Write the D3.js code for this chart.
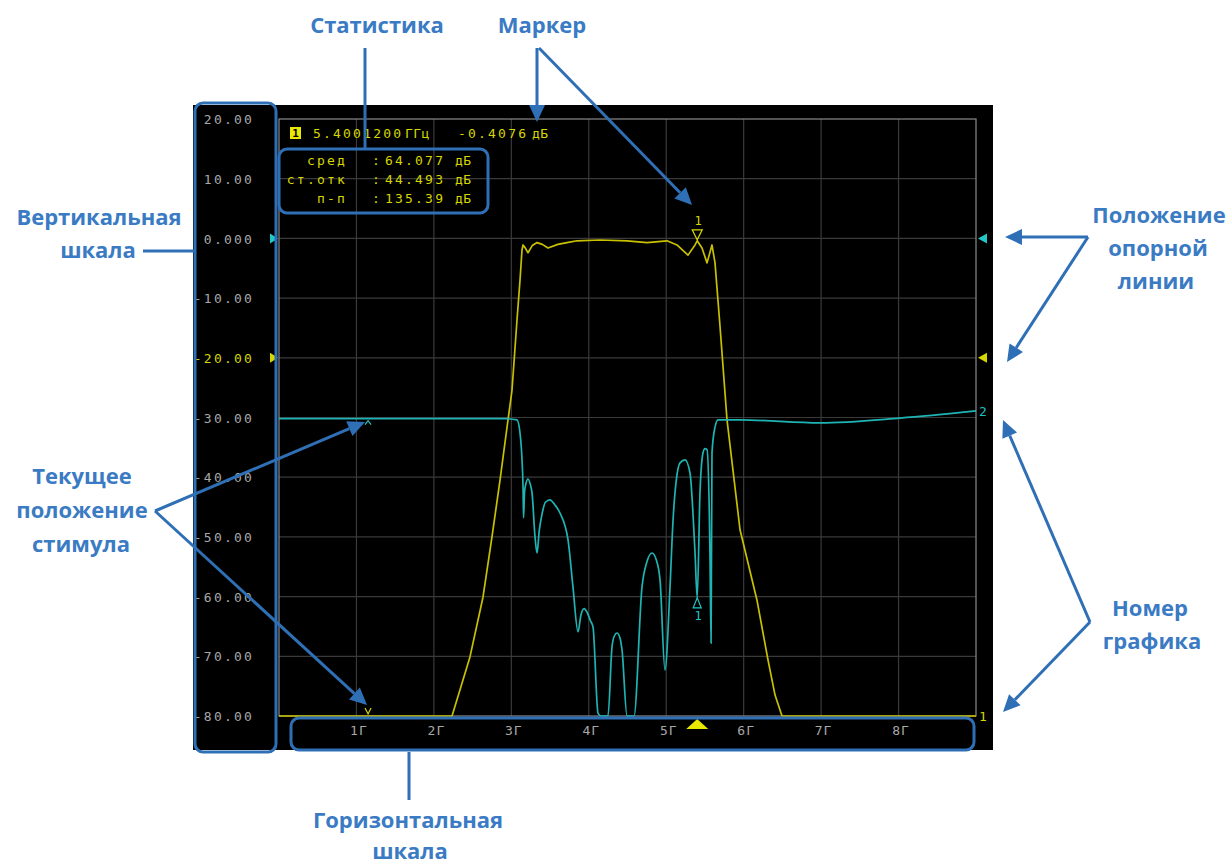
<!DOCTYPE html>
<html><head><meta charset="utf-8">
<script src="https://cdn.jsdelivr.net/npm/d3@7"></script>
<style>body{margin:0;background:#fff}svg{display:block}</style>
</head><body><svg id="c" width="1232" height="866"></svg>
<script>
// ---------- data ----------
const yTicks = [20,10,0,-10,-20,-30,-40,-50,-60,-70,-80];
const yTickLabels = ["20.00","10.00","0.000","-10.00","-20.00","-30.00","-40.00","-50.00","-60.00","-70.00","-80.00"];
const xTicks = [1,2,3,4,5,6,7,8];
const xTickLabels = ["1Г","2Г","3Г","4Г","5Г","6Г","7Г","8Г"];

// trace 1 (yellow, S21)
const s21Freq = [0,2.234,2.466,2.634,2.750,2.854,2.957,3.009,3.073,3.112,3.138,3.151,3.175,3.215,3.27,3.332,3.40,3.474,3.60,3.719,3.848,4.145,4.494,4.752,5.010,5.139,5.281,5.372,5.400,5.462,5.527,5.591,5.630,5.695,5.785,5.953,6.172,6.314,6.405,6.495,9];
const s21Db   = [-85,-80,-70.1,-60.1,-50.0,-40.5,-30.4,-25.4,-13.7,-7.0,-1.9,-1.1,-1.5,-2.4,-1.2,-0.7,-1.0,-1.6,-1.0,-0.7,-0.4,-0.27,-0.4,-0.7,-0.4,-1.1,-2.8,-1.1,-0.41,-1.6,-4.1,-1.1,-4.1,-14.8,-30.4,-48.8,-60.6,-70.6,-76.5,-80,-85];

// trace 2 (cyan, S11)
const s11Freq = [0,1.56,2.92,3.073,3.112,3.138,3.151,3.158,3.17,3.19,3.215,3.245,3.267,3.306,3.332,3.36,3.396,3.44,3.499,3.56,3.628,3.732,3.796,3.861,3.90,3.94,3.977,4.02,4.055,4.119,4.158,4.21,4.248,4.300,4.33,4.365,4.40,4.429,4.494,4.532,4.584,4.687,4.75,4.817,4.87,4.920,4.984,5.049,5.088,5.13,5.178,5.243,5.307,5.372,5.400,5.436,5.475,5.50,5.527,5.566,5.579,5.591,5.630,5.669,5.953,6.986,8.02,9];
const s11Db   = [-30.2,-30.2,-30.2,-30.4,-32.6,-37.1,-41.6,-46.8,-42.5,-41.0,-40.3,-41.2,-42.6,-50.0,-52.7,-49.0,-46.2,-44.2,-43.8,-44.6,-46.0,-50.5,-58.4,-65.9,-63.0,-62.0,-62.6,-64.0,-65.1,-79.5,-84,-84,-80.2,-68.4,-66.6,-66.1,-66.8,-68.9,-80.2,-84,-80,-58.4,-54.2,-52.7,-53.8,-57.2,-72.3,-58.4,-47.2,-40.5,-37.6,-37.1,-39.3,-52.7,-60.2,-42.6,-35.9,-35.2,-35.4,-53.9,-67.8,-35.9,-31.6,-30.4,-30.4,-30.9,-30.1,-28.9];

const markerFreq = 5.40012;
const markerS21 = -0.4076;
const markerS11 = -60.2;
const stimulusFreq = 1.15;
const stimulusS11 = -30.2;
const refValues = [0, -20];
const refColors = ["#22c8c8", "#d6d600"];
const traceNumLabels = ["2", "1"];
const traceNumValues = [-28.9, -80];
const traceNumColors = ["#22c0c0", "#d6d600"];

const markerReadout = ["5.4001200", "ГГц", "-0.4076", "дБ"];
const statLabels = ["сред", "ст.отк", "п-п"];
const statValues = ["64.077", "44.493", "135.39"];
const statUnit = "дБ";

// ---------- drawing ----------
const svg = d3.select("#c");
svg.append("rect").attr("width",1232).attr("height",866).attr("fill","#fff");
svg.append("rect").attr("x",193).attr("y",105).attr("width",800).attr("height",645).attr("fill","#000");

const x = d3.scaleLinear().domain([0,9]).range([279,976]);
const y = d3.scaleLinear().domain([-80,20]).range([716,119]).clamp(true);

const YEL = "#c8c000", CYA = "#1fb4b4", GRID = "#3a3a3a";
const mono = "'DejaVu Sans Mono', monospace";

// grid
const g = svg.append("g");
g.selectAll(".vg").data(xTicks).join("line")
  .attr("x1",d=>x(d)).attr("x2",d=>x(d)).attr("y1",y(20)).attr("y2",y(-80))
  .attr("stroke",GRID).attr("stroke-width",1.2);
g.selectAll(".hg").data(yTicks.slice(1,-1)).join("line")
  .attr("x1",x(0)).attr("x2",x(9)).attr("y1",d=>y(d)).attr("y2",d=>y(d))
  .attr("stroke",GRID).attr("stroke-width",1.2);
g.append("rect").attr("x",x(0)).attr("y",y(20)).attr("width",x(9)-x(0)).attr("height",y(-80)-y(20))
  .attr("fill","none").attr("stroke","#8a8a8a").attr("stroke-width",1.2);

// y axis labels
const ya = svg.append("g").attr("transform","translate(254,0)")
  .call(d3.axisLeft(y).tickValues(yTicks).tickFormat((d,i)=>yTickLabels[i]).tickSize(0).tickPadding(0));
ya.select(".domain").remove();
ya.selectAll("text").attr("font-family",mono).attr("font-size",13).attr("letter-spacing","2.2px")
  .attr("fill",d=>d===-20?"#d6d600":"#a8a8a8").attr("dy","0.36em");

// x axis labels
const xa = svg.append("g").attr("transform","translate(2,735)")
  .call(d3.axisBottom(x).tickValues(xTicks).tickFormat((d,i)=>xTickLabels[i]).tickSize(0).tickPadding(0));
xa.select(".domain").remove();
xa.selectAll("text").attr("dy",0).attr("y",0).attr("font-family",mono).attr("font-size",13)
  .attr("letter-spacing","1px").attr("fill","#a8a8a8");

// traces
const lineLin = d3.line().x(d=>x(d[0])).y(d=>y(d[1]));
const lineSmooth = d3.line().x(d=>x(d[0])).y(d=>y(d[1])).curve(d3.curveMonotoneX);
svg.append("path").datum(d3.zip(s21Freq,s21Db)).attr("d",lineLin)
  .attr("fill","none").attr("stroke",YEL).attr("stroke-width",1.7).attr("stroke-linejoin","round");
svg.append("path").datum(d3.zip(s11Freq,s11Db)).attr("d",lineSmooth)
  .attr("fill","none").attr("stroke",CYA).attr("stroke-width",1.7).attr("stroke-linejoin","round");

// reference level triangles
refValues.forEach((v,i)=>{
  const yy = y(v);
  svg.append("path").attr("d",`M270,${yy-5}L278,${yy}L270,${yy+5}Z`).attr("fill",refColors[i]);
  svg.append("path").attr("d",`M987,${yy-5}L978,${yy}L987,${yy+5}Z`).attr("fill",refColors[i]);
});
// trace numbers
traceNumLabels.forEach((t,i)=>{
  svg.append("text").attr("x",979).attr("y",y(traceNumValues[i])).attr("dy","0.36em")
    .attr("font-family",mono).attr("font-size",13).attr("fill",traceNumColors[i]).text(t);
});

// marker on trace 1
const mx = x(markerFreq), my1 = y(markerS21), my2 = y(markerS11);
svg.append("path").attr("d",`M${mx-5},${my1-11}L${mx+5},${my1-11}L${mx},${my1-1}Z`)
  .attr("fill","none").attr("stroke","#d6d600").attr("stroke-width",1.2);
svg.append("text").attr("x",mx+1).attr("y",my1-20).attr("dy","0.36em").attr("text-anchor","middle")
  .attr("font-family",mono).attr("font-size",12).attr("fill","#d6d600").text("1");
// marker on trace 2
svg.append("path").attr("d",`M${mx-4},${my2+10}L${mx+4},${my2+10}L${mx},${my2}Z`)
  .attr("fill","none").attr("stroke","#22c8c8").attr("stroke-width",1.2);
svg.append("text").attr("x",mx+1).attr("y",my2+18).attr("dy","0.36em").attr("text-anchor","middle")
  .attr("font-family",mono).attr("font-size",12).attr("fill","#22c8c8").text("1");
// marker position on stimulus axis
svg.append("path").attr("d",`M${mx-11},729L${mx+11},729L${mx},719Z`).attr("fill","#e8e800");

// current stimulus position
const sx = x(stimulusFreq);
const sy = y(stimulusS11);
svg.append("path").attr("d",`M${sx-3},${sy+6}L${sx},${sy+2}L${sx+3},${sy+6}`)
  .attr("fill","none").attr("stroke","#22c8c8").attr("stroke-width",1.2);
svg.append("path").attr("d",`M${sx-3},708L${sx},714L${sx+3},708`)
  .attr("fill","none").attr("stroke","#d6d600").attr("stroke-width",1.2);

// marker readout
svg.append("rect").attr("x",290).attr("y",127).attr("width",11).attr("height",12).attr("fill","#e8e800");
svg.append("text").attr("x",295.5).attr("y",137).attr("text-anchor","middle").attr("font-family",mono)
  .attr("font-size",11).attr("font-weight","bold").attr("fill","#000").text("1");
const roX = [313, 405, 458, 532];
markerReadout.forEach((t,i)=>{
  svg.append("text").attr("x",roX[i]).attr("y",138).attr("font-family",mono).attr("font-size",13)
    .attr("letter-spacing",i===1||i===3?"0.4px":"2.2px").attr("fill","#d6d600").text(t);
});
const statY = [165,184,203];
statLabels.forEach((t,i)=>{
  svg.append("text").attr("x",347).attr("y",statY[i]).attr("text-anchor","end").attr("font-family",mono)
    .attr("font-size",13).attr("letter-spacing","2.2px").attr("fill","#d6d600").text(t);
  svg.append("text").attr("x",372).attr("y",statY[i]).attr("font-family",mono)
    .attr("font-size",13).attr("fill","#d6d600").text(":");
  svg.append("text").attr("x",385).attr("y",statY[i]).attr("font-family",mono)
    .attr("font-size",13).attr("letter-spacing","2.2px").attr("fill","#d6d600").text(statValues[i]);
  svg.append("text").attr("x",455).attr("y",statY[i]).attr("font-family",mono)
    .attr("font-size",13).attr("letter-spacing","0.4px").attr("fill","#d6d600").text(statUnit);
});

// ---------- annotations ----------
const BL = "#2f6fb5", BT = "#3a7bc4";
const ann = svg.append("g");
function box(x0,y0,x1,y1){
  ann.append("rect").attr("x",x0).attr("y",y0).attr("width",x1-x0).attr("height",y1-y0).attr("rx",8)
    .attr("fill","none").attr("stroke",BL).attr("stroke-width",3);
}
function seg(x1,y1,x2,y2){
  ann.append("line").attr("x1",x1).attr("y1",y1).attr("x2",x2).attr("y2",y2)
    .attr("stroke",BL).attr("stroke-width",3);
}
function arrow(x1,y1,x2,y2){
  const a = Math.atan2(y2-y1,x2-x1), L=17, W=8;
  const bx = x2-L*Math.cos(a), by = y2-L*Math.sin(a);
  seg(x1,y1,bx,by);
  const px = -Math.sin(a)*W, py = Math.cos(a)*W;
  ann.append("path").attr("d",`M${x2},${y2}L${bx+px},${by+py}L${bx-px},${by-py}Z`).attr("fill",BL);
}
box(195,103,276,752);
box(279,149,488,213);
box(291,718,974,750);

seg(365,48,365,149);
arrow(537,48,537,122);
arrow(539,48,692,205);
seg(143,251,195,251);
arrow(155,511,365,422);
arrow(155,511,367,705);
arrow(1088,237,1005,237);
arrow(1088,237,1007,362);
arrow(1090,622,1003,420);
arrow(1090,622,1003,712);
seg(409,752,409,800);

const annTexts = ["Статистика","Маркер","Вертикальная","шкала","Текущее","положение","стимула",
  "Положение","опорной","линии","Номер","графика","Горизонтальная","шкала"];
const annX = [377,542,99,98,82,82,81,1159,1158,1156,1150,1152,408,410];
const annY = [33,33,225,258,484,518,552,223,256,289,616,649,828,859];
annTexts.forEach((t,i)=>{
  ann.append("text").attr("x",annX[i]).attr("y",annY[i]).attr("text-anchor","middle")
    .attr("font-family","'Open Sans', sans-serif").attr("font-weight",700).attr("font-size",22)
    .attr("fill",BT).text(t);
});
</script></body></html>
